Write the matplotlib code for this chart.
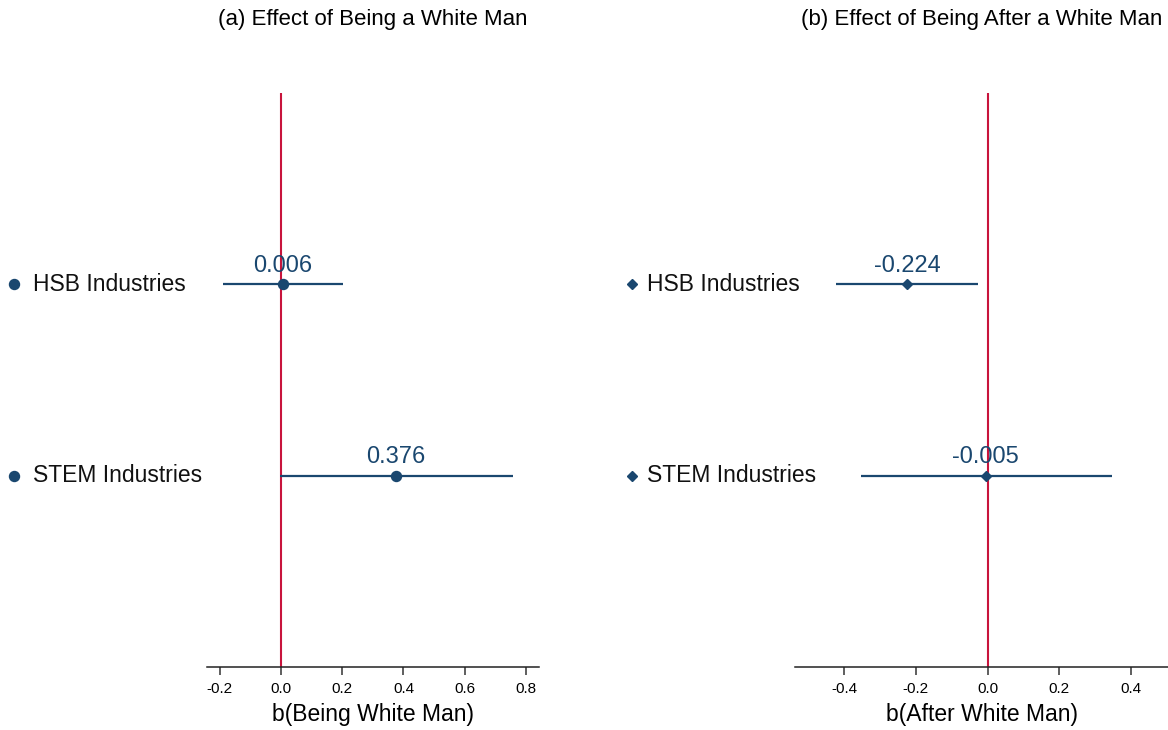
#!/usr/bin/env python3

import matplotlib
matplotlib.use('Agg')
from matplotlib import pyplot as plt
from matplotlib import transforms

# categories (top to bottom)
categories = ['HSB Industries', 'STEM Industries']

# panel (a): effect of being a white man
coef_a = [0.006, 0.376]
lo_a = [-0.190, -0.005]
hi_a = [0.204, 0.757]
labels_a = ['0.006', '0.376']

# panel (b): effect of being after a white man
coef_b = [-0.224, -0.005]
lo_b = [-0.422, -0.354]
hi_b = [-0.028, 0.346]
labels_b = ['-0.224', '-0.005']

ticks_a = [-0.2, 0.0, 0.2, 0.4, 0.6, 0.8]
ticks_b = [-0.4, -0.2, 0.0, 0.2, 0.4]

NAVY = '#1a476f'
RED = '#c8143c'
FONT = 'Liberation Sans'

plt.rcParams['font.family'] = FONT


def panel(fig, rect, coef, lo, hi, labels, ticks, xlim, marker, msize,
          xlabel, title, label_x):
    ax = fig.add_axes(rect)
    ypos = list(range(1, len(categories) + 1))

    ax.axvline(0, color=RED, lw=1.5, zorder=1)
    ax.hlines(ypos, lo, hi, color=NAVY, lw=1.6, zorder=2)
    ax.plot(coef, ypos, linestyle='none', marker=marker, markersize=msize,
            color=NAVY, zorder=3)
    for x, y, t in zip(coef, ypos, labels):
        ax.annotate(t, (x, y), xytext=(0, 9), textcoords='offset points',
                    ha='center', va='baseline', fontsize=17, color=NAVY)

    # category labels with a marker key, placed left of the plot
    trans = transforms.blended_transform_factory(fig.transFigure, ax.transData)
    for y, name in zip(ypos, categories):
        ax.plot([label_x[0]], [y], transform=trans, marker=marker,
                markersize=msize, color=NAVY, clip_on=False, linestyle='none')
        ax.text(label_x[1], y, name, transform=trans, fontsize=16.5,
                va='center', ha='left', color='#111111')

    ax.set_xlim(*xlim)
    ax.set_ylim(3, 0)
    ax.set_yticks([])
    ax.set_xticks(ticks)
    ax.set_xticklabels([f'{t:.1f}' for t in ticks])
    for s in ['top', 'right', 'left']:
        ax.spines[s].set_visible(False)
    ax.spines['bottom'].set_linewidth(1.1)
    ax.spines['bottom'].set_color('#222222')
    ax.tick_params(axis='x', length=5.5, width=1.1, color='#333333',
                   labelsize=11, pad=5)
    ax.set_xlabel(xlabel, fontsize=16.5, labelpad=5)
    ax.set_title(title, fontsize=16, pad=49)
    return ax


def main() -> None:
    fig = plt.figure(figsize=(11.68, 7.3), dpi=100)

    panel(fig, [206.7 / 1168, 63 / 730, 332.6 / 1168, 574 / 730],
          coef_a, lo_a, hi_a, labels_a, ticks_a, (-0.243, 0.844),
          'o', 7.2, 'b(Being White Man)', '(a) Effect of Being a White Man',
          (14 / 1168, 33 / 1168))
    panel(fig, [795 / 1168, 63 / 730, 373 / 1168, 574 / 730],
          coef_b, lo_b, hi_b, labels_b, ticks_b, (-0.537, 0.503),
          'D', 5.0, 'b(After White Man)',
          '(b) Effect of Being After a White Man',
          (631.5 / 1168, 647 / 1168))

    fig.savefig('out.png', dpi=100)


if __name__ == '__main__':
    main()
